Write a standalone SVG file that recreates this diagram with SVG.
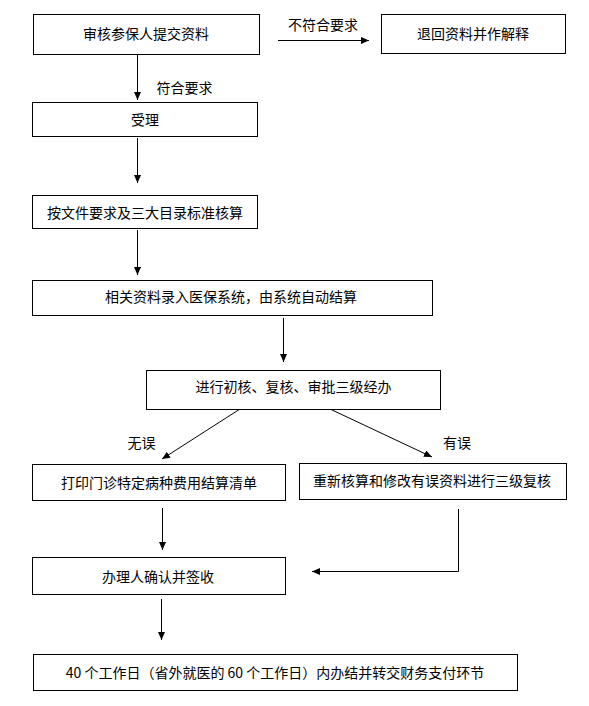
<svg xmlns="http://www.w3.org/2000/svg" width="589" height="706" viewBox="0 0 589 706">
<style>
.box{fill:#fff;stroke:#000;stroke-width:1}
.t{font-family:"Noto Sans CJK SC","Liberation Sans",sans-serif;font-size:14px;fill:#000;text-anchor:middle;dominant-baseline:central}
.c{fill:none;stroke:#000;stroke-width:1}
</style>
<defs>
<marker id="ah" markerUnits="userSpaceOnUse" markerWidth="8" markerHeight="7" refX="8" refY="3.5" orient="auto">
<path d="M0,0 L8,3.5 L0,7 z" fill="#000"/>
</marker>
</defs>
<rect width="589" height="706" fill="#fff"/>
<g id="connectors">
<path class="c" d="M137.5,54 V100" marker-end="url(#ah)"/>
<path class="c" d="M278,40.5 H369" marker-end="url(#ah)"/>
<path class="c" d="M137.5,138 V183" marker-end="url(#ah)"/>
<path class="c" d="M137.5,230 V275" marker-end="url(#ah)"/>
<path class="c" d="M283.5,318 V362" marker-end="url(#ah)"/>
<path class="c" d="M240,409 L162,459" marker-end="url(#ah)"/>
<path class="c" d="M330,409 L432,457" marker-end="url(#ah)"/>
<path class="c" d="M162.5,508 V550" marker-end="url(#ah)"/>
<path class="c" d="M458.5,509 V571.5 H312" marker-end="url(#ah)"/>
<path class="c" d="M161.5,599 V640" marker-end="url(#ah)"/>
<text class="t" x="323" y="24">不符合要求</text>
<text class="t" x="184.5" y="87">符合要求</text>
<text class="t" x="141.5" y="442">无误</text>
<text class="t" x="457" y="442">有误</text>
</g>
<g id="n1"><rect class="box" x="33.5" y="14.5" width="226" height="40"/><text class="t" x="146" y="33">审核参保人提交资料</text></g>
<g id="n2"><rect class="box" x="381.5" y="14.5" width="184" height="39"/><text class="t" x="473" y="33">退回资料并作解释</text></g>
<g id="n3"><rect class="box" x="32.5" y="102.5" width="225" height="34"/><text class="t" x="145" y="118.5">受理</text></g>
<g id="n4"><rect class="box" x="32.5" y="195.5" width="225" height="33"/><text class="t" x="145" y="212">按文件要求及三大目录标准核算</text></g>
<g id="n5"><rect class="box" x="32.5" y="280.5" width="400" height="35"/><text class="t" x="231" y="296">相关资料录入医保系统，由系统自动结算</text></g>
<g id="n6"><rect class="box" x="146.5" y="370.5" width="294" height="39"/><text class="t" x="293.5" y="386">进行初核、复核、审批三级经办</text></g>
<g id="n7"><rect class="box" x="32.5" y="464.5" width="253" height="36"/><text class="t" x="159" y="481.5">打印门诊特定病种费用结算清单</text></g>
<g id="n8"><rect class="box" x="299.5" y="463.5" width="267" height="36"/><text class="t" x="432" y="480">重新核算和修改有误资料进行三级复核</text></g>
<g id="n9"><rect class="box" x="32.5" y="557.5" width="253" height="37"/><text class="t" x="158" y="576">办理人确认并签收</text></g>
<g id="n10"><rect class="box" x="33.5" y="654.5" width="484" height="36"/><text class="t" x="275" y="671.5">40 个工作日（省外就医的 60 个工作日）内办结并转交财务支付环节</text></g>
</svg>
